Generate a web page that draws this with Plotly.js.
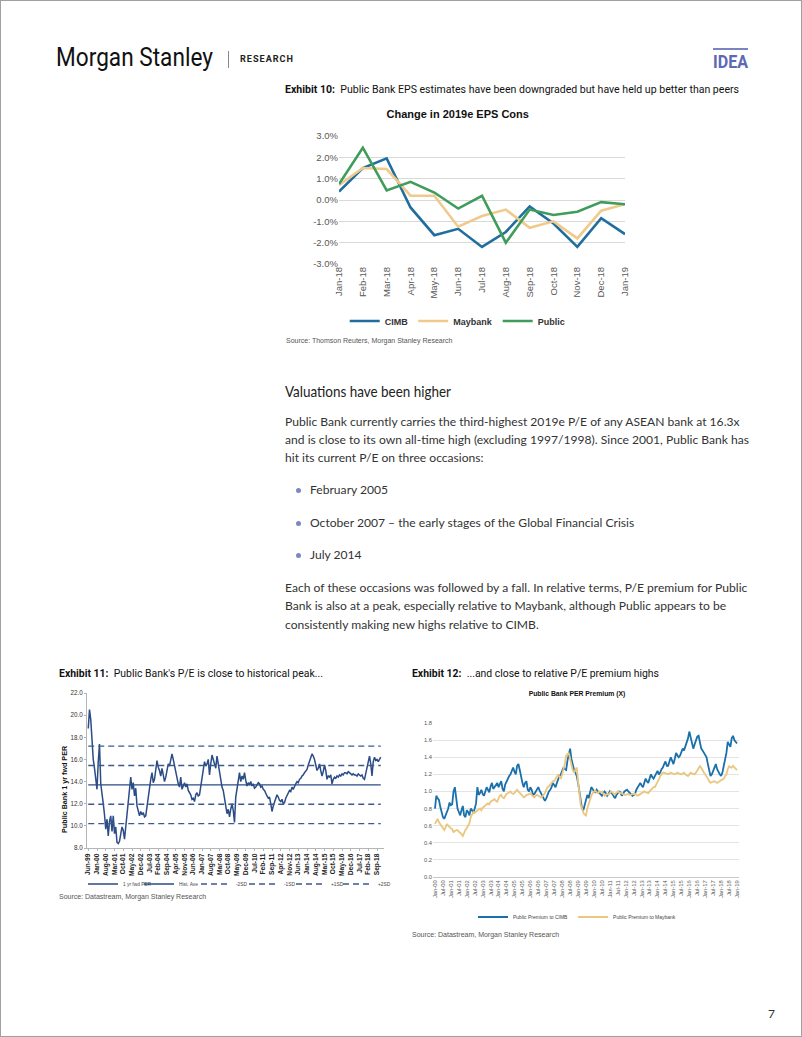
<!DOCTYPE html>
<html><head><meta charset="utf-8">
<script src="https://cdn.plot.ly/plotly-3.0.1.min.js"></script>
<style>
html,body{margin:0;padding:0;background:#fff;}
#page{position:relative;width:800px;height:1035px;border:1px solid #a0a0a0;overflow:hidden;font-family:"Liberation Sans",Arial,sans-serif;color:#222;}
.abs{position:absolute;white-space:nowrap;}
.sc{display:inline-block;transform-origin:0 50%;}
.body{font-family:Lato,"Noto Sans",sans-serif;font-size:12.1px;line-height:18.3px;color:#333;}
.exh{font-family:Roboto,"Liberation Sans",sans-serif;font-size:11.5px;line-height:14px;color:#111;}
.src{font-family:"Liberation Sans",Arial,sans-serif;font-size:7px;color:#555;line-height:9px;}
.dot{position:absolute;width:5px;height:5px;border-radius:50%;background:#7c87c3;}
</style></head>
<body>
<div id="page">
  <div class="abs" style="left:55px;top:44px;font-family:Roboto,sans-serif;font-size:25.8px;line-height:25.8px;color:#111;"><span class="sc" data-w="157">Morgan Stanley</span></div>
  <div class="abs" style="left:227px;top:50px;width:1px;height:17px;background:#888;"></div>
  <div class="abs" style="left:239px;top:53px;font-family:Roboto,sans-serif;font-weight:700;font-size:9.3px;line-height:10px;letter-spacing:1px;color:#222;"><span class="sc" data-w="54">RESEARCH</span></div>
  <div class="abs" style="left:712px;top:47px;width:35px;height:2px;background:#7a84c2;"></div>
  <div class="abs" style="left:712px;top:51px;font-family:Roboto,sans-serif;font-weight:700;font-size:19px;line-height:19px;color:#5c69b3;"><span class="sc" data-w="35">IDEA</span></div>

  <div class="abs exh" style="left:284px;top:81px;"><span class="sc" data-w="454"><b>Exhibit 10:</b>&nbsp; Public Bank EPS estimates have been downgraded but have held up better than peers</span></div>
  <div id="c10" class="abs" style="left:280px;top:95px;width:380px;height:240px;"></div>
  <div class="abs src" style="left:285px;top:335px;">Source: Thomson Reuters, Morgan Stanley Research</div>

  <div class="abs" style="left:284px;top:380px;font-family:Lato,'Noto Sans',sans-serif;font-size:15px;line-height:20px;color:#222;"><span class="sc" data-w="166">Valuations have been higher</span></div>
  <div class="abs body" style="left:284px;top:411.7px;">Public Bank currently carries the third-highest 2019e P/E of any ASEAN bank at 16.3x<br>and is close to its own all-time high (excluding 1997/1998). Since 2001, Public Bank has<br>hit its current P/E on three occasions:</div>
  <div class="dot" style="left:295px;top:487px;"></div>
  <div class="abs body" style="left:309px;top:480.2px;">February 2005</div>
  <div class="dot" style="left:295px;top:520px;"></div>
  <div class="abs body" style="left:309px;top:513.2px;">October 2007 – the early stages of the Global Financial Crisis</div>
  <div class="dot" style="left:295px;top:552px;"></div>
  <div class="abs body" style="left:309px;top:545.2px;">July 2014</div>
  <div class="abs body" style="left:284px;top:578.2px;">Each of these occasions was followed by a fall. In relative terms, P/E premium for Public<br>Bank is also at a peak, especially relative to Maybank, although Public appears to be<br>consistently making new highs relative to CIMB.</div>

  <div class="abs exh" style="left:58px;top:665px;"><span class="sc" data-w="264"><b>Exhibit 11:</b>&nbsp; Public Bank's P/E is close to historical peak...</span></div>
  <div id="c11" class="abs" style="left:55px;top:685px;width:340px;height:210px;"></div>
  <div class="abs src" style="left:58px;top:891px;">Source: Datastream, Morgan Stanley Research</div>

  <div class="abs exh" style="left:411px;top:665px;"><span class="sc" data-w="247"><b>Exhibit 12:</b>&nbsp; ...and close to relative P/E premium highs</span></div>
  <div id="c12" class="abs" style="left:405px;top:680px;width:380px;height:255px;"></div>
  <div class="abs src" style="left:411px;top:929px;">Source: Datastream, Morgan Stanley Research</div>

  <div class="abs" style="left:767px;top:1005px;font-family:Lato,sans-serif;font-size:12px;color:#333;">7</div>
</div>
<script>
// ---------- Exhibit 10 data ----------
const epsMonths = ['Jan-18','Feb-18','Mar-18','Apr-18','May-18','Jun-18','Jul-18','Aug-18','Sep-18','Oct-18','Nov-18','Dec-18','Jan-19'];
const cimbEps    = [0.40, 1.50, 1.95, -0.35, -1.65, -1.35, -2.20, -1.50, -0.30, -1.10, -2.20, -0.85, -1.60];
const maybankEps = [0.70, 1.50, 1.45, 0.20, 0.20, -1.25, -0.75, -0.45, -1.30, -1.00, -1.80, -0.50, -0.20];
const publicEps  = [0.75, 2.45, 0.45, 0.85, 0.35, -0.40, 0.20, -2.00, -0.45, -0.70, -0.55, -0.10, -0.20];
const epsTickVals = [-3,-2,-1,0,1,2,3];
const epsTickLabels = ['-3.0%','-2.0%','-1.0%','0.0%','1.0%','2.0%','3.0%'];

// ---------- Exhibit 11 data (monthly, from Jun-99) ----------
const perValues = [
 18.8,20.5,19.6,17.5,16.0,15.2,14.0,13.3,15.8,17.4,
 13.8,12.6,12.0,11.0,9.7,10.6,9.1,10.4,10.9,9.5,
 10.9,9.3,9.9,8.5,8.4,8.6,9.2,9.9,9.6,8.8,
 9.9,11.2,11.9,13.6,14.4,13.3,13.9,12.7,13.4,11.8,
 11.2,10.9,11.3,11.0,11.2,10.8,10.9,11.8,12.7,13.5,
 14.2,14.8,13.9,14.2,15.0,15.9,15.3,15.0,14.5,15.2,
 14.6,14.0,14.4,15.0,15.6,15.4,16.1,16.5,16.0,15.4,
 14.7,14.2,13.8,13.5,14.4,13.3,13.6,13.9,13.5,13.8,
 13.2,13.0,12.8,12.4,12.5,12.2,12.8,13.0,12.7,12.8,
 13.5,14.0,15.0,15.8,15.4,15.6,16.0,14.6,15.6,16.4,
 16.0,15.5,15.2,16.3,15.6,14.8,14.2,13.5,13.2,12.6,
 12.0,11.1,11.5,10.8,11.5,12.0,11.4,10.3,12.6,13.4,
 14.2,14.8,14.0,14.5,14.2,14.8,14.1,13.6,13.9,13.7,
 14.0,13.6,13.8,13.4,13.5,13.7,13.9,13.8,13.5,13.6,
 13.3,13.2,12.9,12.7,12.5,12.6,12.0,11.3,11.8,12.2,
 12.4,12.8,12.6,12.3,12.2,12.4,12.0,12.1,12.5,12.7,
 12.9,13.2,13.1,13.5,13.3,13.6,13.8,14.0,13.9,14.2,
 14.3,14.5,14.6,14.8,15.0,15.1,15.5,15.8,16.2,16.5,
 16.3,16.0,15.5,15.0,15.2,15.6,15.0,14.5,14.9,15.5,
 15.0,14.2,14.5,14.4,14.6,13.8,14.2,14.4,14.3,14.5,
 14.4,14.6,14.5,14.7,14.6,14.8,14.8,14.7,14.9,14.8,
 14.7,14.6,14.7,14.6,14.6,14.5,14.7,14.6,14.5,14.6,
 14.3,14.2,14.7,15.2,15.8,16.3,15.6,14.5,15.8,16.2,
 15.9,16.0,15.8,16.0,16.2
];
const histAve = 13.7;
const minus2SD = 10.2, minus1SD = 11.95, plus1SD = 15.45, plus2SD = 17.2;
const perTickLabels = ['Jun-99','Jan-00','Aug-00','Mar-01','Oct-01','May-02','Dec-02','Jul-03','Feb-04','Sep-04','Apr-05','Nov-05','Jun-06','Jan-07','Aug-07','Mar-08','Oct-08','May-09','Dec-09','Jul-10','Feb-11','Sep-11','Apr-12','Nov-12','Jun-13','Jan-14','Aug-14','Mar-15','Oct-15','May-16','Dec-16','Jul-17','Feb-18','Sep-18'];
const perTickStep = 7; // months between labels

// ---------- Exhibit 12 data (monthly, from Jan-00) ----------
const premCimb = [
 0.80,0.95,0.92,0.90,0.82,0.75,0.70,0.68,0.72,0.76,
 0.80,0.87,0.84,0.85,1.00,1.05,0.90,0.80,0.76,0.72,
 0.78,0.83,0.72,0.70,0.78,0.76,0.72,0.80,0.78,0.75,
 0.80,0.86,1.05,0.96,0.98,1.02,0.97,0.95,1.00,1.05,
 1.02,0.99,1.06,1.10,1.03,1.05,1.08,1.10,1.05,1.08,
 1.12,1.03,1.00,1.08,1.12,1.15,1.18,1.20,1.24,1.28,
 1.23,1.20,1.30,1.32,1.25,1.16,1.10,1.05,1.10,1.12,
 1.02,1.00,1.05,1.02,0.96,0.97,1.00,1.03,1.05,1.01,
 0.98,0.95,0.92,0.89,0.92,0.97,1.00,1.02,1.05,1.10,
 1.07,1.05,1.10,1.15,1.18,1.20,1.24,1.28,1.26,1.25,
 1.36,1.42,1.50,1.38,1.30,1.25,1.22,1.18,1.10,1.00,
 0.85,0.80,0.78,0.84,0.92,0.96,0.92,0.98,1.05,1.03,
 1.00,0.99,1.02,1.00,0.98,0.96,0.95,0.98,1.00,0.98,
 0.95,0.97,1.00,0.98,0.97,0.94,0.92,0.96,0.98,1.00,
 0.99,0.95,0.97,1.00,1.01,1.02,1.00,0.98,0.96,0.95,
 0.96,0.97,1.02,1.05,1.08,1.10,1.07,1.05,1.10,1.15,
 1.12,1.10,1.15,1.20,1.17,1.15,1.18,1.22,1.24,1.20,
 1.22,1.26,1.28,1.32,1.35,1.30,1.30,1.35,1.40,1.36,
 1.32,1.38,1.45,1.42,1.40,1.42,1.46,1.50,1.48,1.52,
 1.56,1.62,1.70,1.62,1.55,1.50,1.55,1.60,1.64,1.65,
 1.58,1.50,1.48,1.45,1.42,1.40,1.32,1.25,1.18,1.20,
 1.24,1.28,1.32,1.26,1.22,1.20,1.18,1.22,1.30,1.38,
 1.45,1.58,1.55,1.52,1.62,1.65,1.60,1.58,1.56
];
const premMaybank = [
 0.62,0.66,0.68,0.64,0.62,0.60,0.57,0.55,0.58,0.62,
 0.60,0.58,0.57,0.56,0.52,0.54,0.55,0.55,0.53,0.52,
 0.50,0.48,0.52,0.55,0.57,0.60,0.63,0.70,0.74,0.76,
 0.75,0.77,0.78,0.79,0.80,0.78,0.81,0.82,0.84,0.85,
 0.86,0.85,0.88,0.89,0.90,0.91,0.89,0.88,0.92,0.95,
 0.96,0.93,0.92,0.95,0.97,0.98,0.99,1.00,0.98,0.97,
 0.98,1.00,1.02,1.00,0.98,0.97,0.95,0.93,0.94,0.96,
 0.96,0.97,0.98,0.96,0.94,0.93,0.95,0.96,0.95,0.94,
 0.93,0.94,0.96,0.98,1.02,1.05,1.06,1.08,1.10,1.12,
 1.12,1.15,1.18,1.20,1.17,1.15,1.20,1.25,1.32,1.42,
 1.44,1.45,1.38,1.30,1.25,1.22,1.25,1.28,1.12,0.96,
 0.84,0.80,0.75,0.73,0.72,0.80,0.86,0.90,0.95,0.98,
 1.00,1.01,0.99,0.98,1.00,0.99,1.00,0.97,0.95,0.96,
 0.97,0.96,0.98,1.00,0.99,0.97,0.97,0.98,1.00,0.99,
 0.98,0.98,0.97,0.96,0.96,0.97,0.97,0.96,0.96,0.97,
 0.97,0.97,0.96,0.95,0.96,0.97,0.98,0.99,1.00,0.99,
 0.98,0.98,1.00,1.02,1.03,1.05,1.05,1.08,1.10,1.14,
 1.18,1.20,1.22,1.22,1.21,1.20,1.20,1.21,1.22,1.21,
 1.20,1.20,1.21,1.22,1.21,1.20,1.20,1.21,1.22,1.20,
 1.19,1.18,1.20,1.22,1.21,1.20,1.20,1.22,1.24,1.27,
 1.30,1.28,1.25,1.22,1.20,1.17,1.15,1.12,1.10,1.11,
 1.12,1.12,1.11,1.10,1.11,1.12,1.12,1.13,1.15,1.18,
 1.20,1.26,1.30,1.28,1.28,1.30,1.28,1.26,1.25
];
const premTickLabels = ['Jan-00','Jul-00','Jan-01','Jul-01','Jan-02','Jul-02','Jan-03','Jul-03','Jan-04','Jul-04','Jan-05','Jul-05','Jan-06','Jul-06','Jan-07','Jul-07','Jan-08','Jul-08','Jan-09','Jul-09','Jan-10','Jul-10','Jan-11','Jul-11','Jan-12','Jul-12','Jan-13','Jul-13','Jan-14','Jul-14','Jan-15','Jul-15','Jan-16','Jul-16','Jan-17','Jul-17','Jan-18','Jul-18','Jan-19'];
const premTickStep = 6;

// ---------- helpers ----------
const idx = n => Array.from({length:n}, (_, i) => i);
const cfg = {displayModeBar:false, staticPlot:true};
const AR = '"Liberation Sans", Arial, sans-serif';

// ---------- Exhibit 10 ----------
Plotly.newPlot('c10', [
  {x:epsMonths, y:cimbEps, name:'CIMB', type:'scatter', mode:'lines', line:{color:'#1f6e9e', width:2.6}},
  {x:epsMonths, y:maybankEps, name:'Maybank', type:'scatter', mode:'lines', line:{color:'#f0ca8c', width:2.6}},
  {x:epsMonths, y:publicEps, name:'Public', type:'scatter', mode:'lines', line:{color:'#3f9c5b', width:2.6}}
], {
  width:380, height:240, margin:{l:58, r:36, t:40, b:71.7},
  paper_bgcolor:'rgba(0,0,0,0)', plot_bgcolor:'rgba(0,0,0,0)',
  font:{family:AR},
  title:{text:'<b>Change in 2019e EPS Cons</b>', font:{family:AR, size:11, color:'#111'}, x:0.465, xref:'container', xanchor:'center', y:1-18/240, yref:'container', yanchor:'middle'},
  xaxis:{type:'category', range:[0,12], automargin:false, tickangle:-90, tickfont:{family:AR, size:9.5, color:'#595959'}, showgrid:false, showline:false, ticks:'', zeroline:false},
  yaxis:{range:[-3,3], automargin:false, tickvals:epsTickVals, ticktext:epsTickLabels, tickfont:{family:AR, size:9.5, color:'#595959'}, gridcolor:'#d9d9d9', gridwidth:1, zeroline:false, showline:false, ticks:''},
  showlegend:true,
  legend:{orientation:'h', xref:'container', yref:'container', x:0.465, xanchor:'center', y:1-225/240, yanchor:'middle', bgcolor:'rgba(0,0,0,0)', font:{family:AR, size:9, color:'#333', weight:'bold'}, itemwidth:30}
}, cfg);

// ---------- Exhibit 11 ----------
const perX = idx(perValues.length);
const perEnds = [perX[0], perX[perX.length-1]];
const navy = '#2b4c86';
const perTickVals = perTickLabels.map((_, i) => i*perTickStep);
const bandLegendY = 1 - 198/210;
const legFont = {family:AR, size:4.8, color:'#444'};
const legBase = {orientation:'h', xref:'container', yref:'container', y:bandLegendY, xanchor:'left', yanchor:'middle', bgcolor:'rgba(0,0,0,0)', font:legFont};
Plotly.newPlot('c11', [
  {x:perX, y:perValues, name:'1 yr fwd PER', type:'scatter', mode:'lines', line:{color:navy, width:1.5}, legend:'legend'},
  {x:perEnds, y:[histAve, histAve], name:'Hist. Ave', type:'scatter', mode:'lines', line:{color:navy, width:1.3}, legend:'legend2'},
  {x:perEnds, y:[minus2SD, minus2SD], name:'-2SD', type:'scatter', mode:'lines', line:{color:'#3d5a8c', width:1.3, dash:'6px,4px'}, legend:'legend3'},
  {x:perEnds, y:[minus1SD, minus1SD], name:'-1SD', type:'scatter', mode:'lines', line:{color:'#3d5a8c', width:1.3, dash:'6px,4px'}, legend:'legend4'},
  {x:perEnds, y:[plus1SD, plus1SD], name:'+1SD', type:'scatter', mode:'lines', line:{color:'#3d5a8c', width:1.3, dash:'6px,4px'}, legend:'legend5'},
  {x:perEnds, y:[plus2SD, plus2SD], name:'+2SD', type:'scatter', mode:'lines', line:{color:'#3d5a8c', width:1.3, dash:'6px,4px'}, legend:'legend6'}
], {
  width:340, height:210, margin:{l:30.7, r:12, t:7, b:48},
  paper_bgcolor:'rgba(0,0,0,0)', plot_bgcolor:'rgba(0,0,0,0)',
  font:{family:AR},
  xaxis:{range:[-1, 236.6], automargin:false, tickvals:perTickVals, ticktext:perTickLabels, tickangle:-90, tickfont:{family:AR, size:6.6, color:'#222', weight:'bold'}, showgrid:false, zeroline:false, showline:true, linecolor:'#b5b5b5', linewidth:1, ticks:'outside', ticklen:2, tickcolor:'#b5b5b5'},
  yaxis:{range:[8,22], automargin:false, dtick:2, tickformat:'.1f', tickfont:{family:AR, size:6.3, color:'#333'}, showgrid:false, zeroline:false, showline:true, linecolor:'#b5b5b5', linewidth:1, ticks:'outside', ticklen:2, tickcolor:'#b5b5b5'},
  annotations:[{text:'<b>Public Bank 1 yr fwd PER</b>', textangle:-90, xref:'paper', yref:'paper', x:-0.078, xanchor:'center', y:0.38, yanchor:'middle', showarrow:false, font:{family:AR, size:7.2, color:'#111'}}],
  showlegend:true,
  legend: Object.assign({}, legBase, {x:27/340}),
  legend2:Object.assign({}, legBase, {x:83/340}),
  legend3:Object.assign({}, legBase, {x:140/340}),
  legend4:Object.assign({}, legBase, {x:188/340}),
  legend5:Object.assign({}, legBase, {x:235/340}),
  legend6:Object.assign({}, legBase, {x:282/340})
}, cfg);

// ---------- Exhibit 12 ----------
const premX = idx(premCimb.length);
const premTickVals = premTickLabels.map((_, i) => i*premTickStep);
Plotly.newPlot('c12', [
  {x:premX, y:premCimb, name:'Public Premium to CIMB', type:'scatter', mode:'lines', line:{color:'#1a70ab', width:1.8}},
  {x:premX, y:premMaybank, name:'Public Premium to Maybank', type:'scatter', mode:'lines', line:{color:'#ebc67f', width:1.8}}
], {
  width:380, height:255, margin:{l:26.7, r:46.7, t:41.7, b:59},
  paper_bgcolor:'rgba(0,0,0,0)', plot_bgcolor:'rgba(0,0,0,0)',
  font:{family:AR},
  title:{text:'<b>Public Bank PER Premium (X)</b>', font:{family:AR, size:6.8, color:'#111'}, x:0.45, xref:'container', xanchor:'center', y:1-13/255, yref:'container', yanchor:'middle'},
  xaxis:{range:[-1.5, 229.5], automargin:false, tickvals:premTickVals, ticktext:premTickLabels, tickangle:-90, tickfont:{family:AR, size:5.8, color:'#595959'}, showgrid:false, zeroline:false, showline:true, linecolor:'#c8c8c8', linewidth:1, ticks:''},
  yaxis:{range:[0,1.8], automargin:false, dtick:0.2, tickformat:'.1f', tickfont:{family:AR, size:5.8, color:'#595959'}, gridcolor:'#e4e4e4', gridwidth:1, zeroline:false, showline:false, ticks:''},
  showlegend:true,
  legend:{orientation:'h', xref:'container', yref:'container', x:0.45, xanchor:'center', y:1-236/255, yanchor:'middle', bgcolor:'rgba(0,0,0,0)', font:{family:AR, size:5, color:'#444'}}
}, cfg);

// fit condensed heading texts to their measured widths
document.querySelectorAll('.sc[data-w]').forEach(el => {
  const w = el.getBoundingClientRect().width;
  if (w > 0) el.style.transform = 'scaleX(' + (parseFloat(el.dataset.w) / w) + ')';
});
</script>
</body></html>
